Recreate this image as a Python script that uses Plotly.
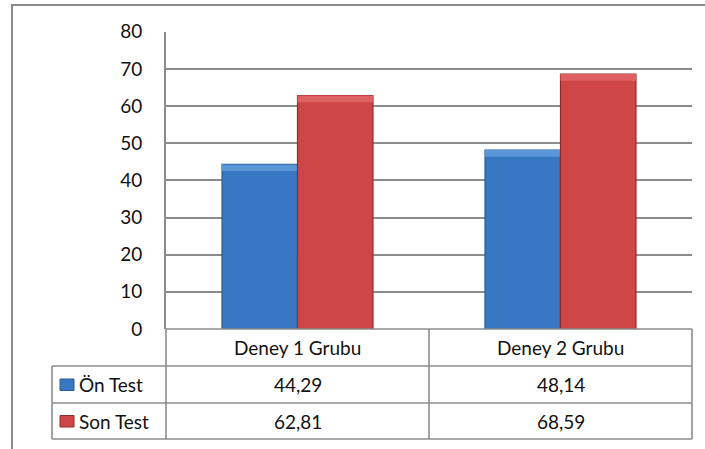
import plotly.graph_objects as go

categories = ["Deney 1 Grubu", "Deney 2 Grubu"]
series_names = ["Ön Test", "Son Test"]
on_test = [44.29, 48.14]
son_test = [62.81, 68.59]
y_ticks = [0, 10, 20, 30, 40, 50, 60, 70, 80]

W, H = 705, 449
FONT = "Lato, 'Open Sans', sans-serif"
GRID = "#8c8c8c"
series_vals = [on_test, son_test]
fills = ["#3877c1", "#cf4646"]
edges = ["#285a96", "#8e2b2b"]
bevels = ["#5896d8", "#de6060"]
BEVEL = 1.8


def px(x):
    return x / W


def py(y):
    return 1 - y / H


fig = go.Figure()
for i, (name, vals) in enumerate(zip(series_names, series_vals)):
    fig.add_trace(go.Bar(
        x=categories, y=vals, name=name, offsetgroup=str(i),
        marker=dict(color=fills[i], line=dict(color=edges[i], width=1.2)),
        showlegend=False, hoverinfo="skip",
    ))
    # lighter top bevel strip, sitting on top part of each bar
    fig.add_trace(go.Bar(
        x=categories, y=[BEVEL] * len(vals), base=[v - BEVEL for v in vals],
        offsetgroup=str(i), marker=dict(color=bevels[i], line=dict(color=edges[i], width=0)),
        showlegend=False, hoverinfo="skip",
    ))

plot_top, plot_bot = 31.7, 329
x0, x1 = 166, 692
row_lines = [366, 403, 439]
tbl_left = 52

shapes = []
# outer border
shapes.append(dict(type="rect", xref="paper", yref="paper",
                   x0=px(12), x1=px(730), y0=py(5), y1=py(470),
                   line=dict(color="#8a8a8a", width=2), fillcolor="rgba(0,0,0,0)"))
line = dict(color=GRID, width=1.6)
# table horizontal lines
shapes.append(dict(type="line", xref="paper", yref="paper",
                   x0=px(x0), x1=px(x1), y0=py(plot_bot), y1=py(plot_bot), line=line))
for r in row_lines:
    shapes.append(dict(type="line", xref="paper", yref="paper",
                       x0=px(tbl_left), x1=px(x1), y0=py(r), y1=py(r), line=line))
# verticals
shapes.append(dict(type="line", xref="paper", yref="paper",
                   x0=px(tbl_left), x1=px(tbl_left), y0=py(row_lines[0]), y1=py(row_lines[-1]), line=line))
shapes.append(dict(type="line", xref="paper", yref="paper",
                   x0=px(x0), x1=px(x0), y0=py(plot_bot), y1=py(row_lines[-1]), line=line))
shapes.append(dict(type="line", xref="x", yref="paper",
                   x0=0.5, x1=0.5, y0=py(plot_bot), y1=py(row_lines[-1]), line=line))
shapes.append(dict(type="line", xref="paper", yref="paper",
                   x0=px(x1), x1=px(x1), y0=py(plot_bot), y1=py(row_lines[-1]), line=line))

annotations = []
tfont = dict(family=FONT, size=19, color="#111111")
row_centers = [(plot_bot + row_lines[0]) / 2, (row_lines[0] + row_lines[1]) / 2,
               (row_lines[1] + row_lines[2]) / 2]
for c in categories:
    annotations.append(dict(x=c, y=py(row_centers[0]), xref="x", yref="paper",
                            text=c, showarrow=False, font=tfont,
                            xanchor="center", yanchor="middle"))
for i, (name, vals) in enumerate(zip(series_names, series_vals)):
    yc = row_centers[i + 1]
    for c, v in zip(categories, vals):
        annotations.append(dict(x=c, y=py(yc), xref="x", yref="paper",
                                text=f"{v:.2f}".replace(".", ","), showarrow=False,
                                font=tfont, xanchor="center", yanchor="middle"))
    annotations.append(dict(x=px(77), y=py(yc), xref="paper", yref="paper",
                            text=name, showarrow=False, font=tfont,
                            xanchor="left", yanchor="middle"))
    shapes.append(dict(type="rect", xref="paper", yref="paper",
                       x0=px(60), x1=px(74), y0=py(yc - 5.5), y1=py(yc + 6),
                       fillcolor=fills[i], line=dict(color=edges[i], width=1)))

fig.update_layout(
    width=W, height=H, margin=dict(l=0, r=0, t=0, b=0, pad=0),
    paper_bgcolor="white", plot_bgcolor="white",
    barmode="group", bargap=0.426, bargroupgap=0,
    font=dict(family=FONT, size=19, color="#111111"),
    shapes=shapes, annotations=annotations,
    xaxis=dict(domain=[px(x0), px(x1)], range=[-0.5, 1.5], showticklabels=False,
               showgrid=False, zeroline=False, showline=False, fixedrange=True,
               automargin=False),
    yaxis=dict(domain=[py(plot_bot), py(plot_top)], range=[0, 80], tickvals=y_ticks,
               showgrid=True, gridcolor=GRID, gridwidth=1.6, zeroline=False,
               showline=True, linecolor=GRID, linewidth=1.6, automargin=False,
               ticks="", ticklabelstandoff=18,
               tickfont=dict(family=FONT, size=19, color="#111111")),
)

fig.write_html("out.html")
